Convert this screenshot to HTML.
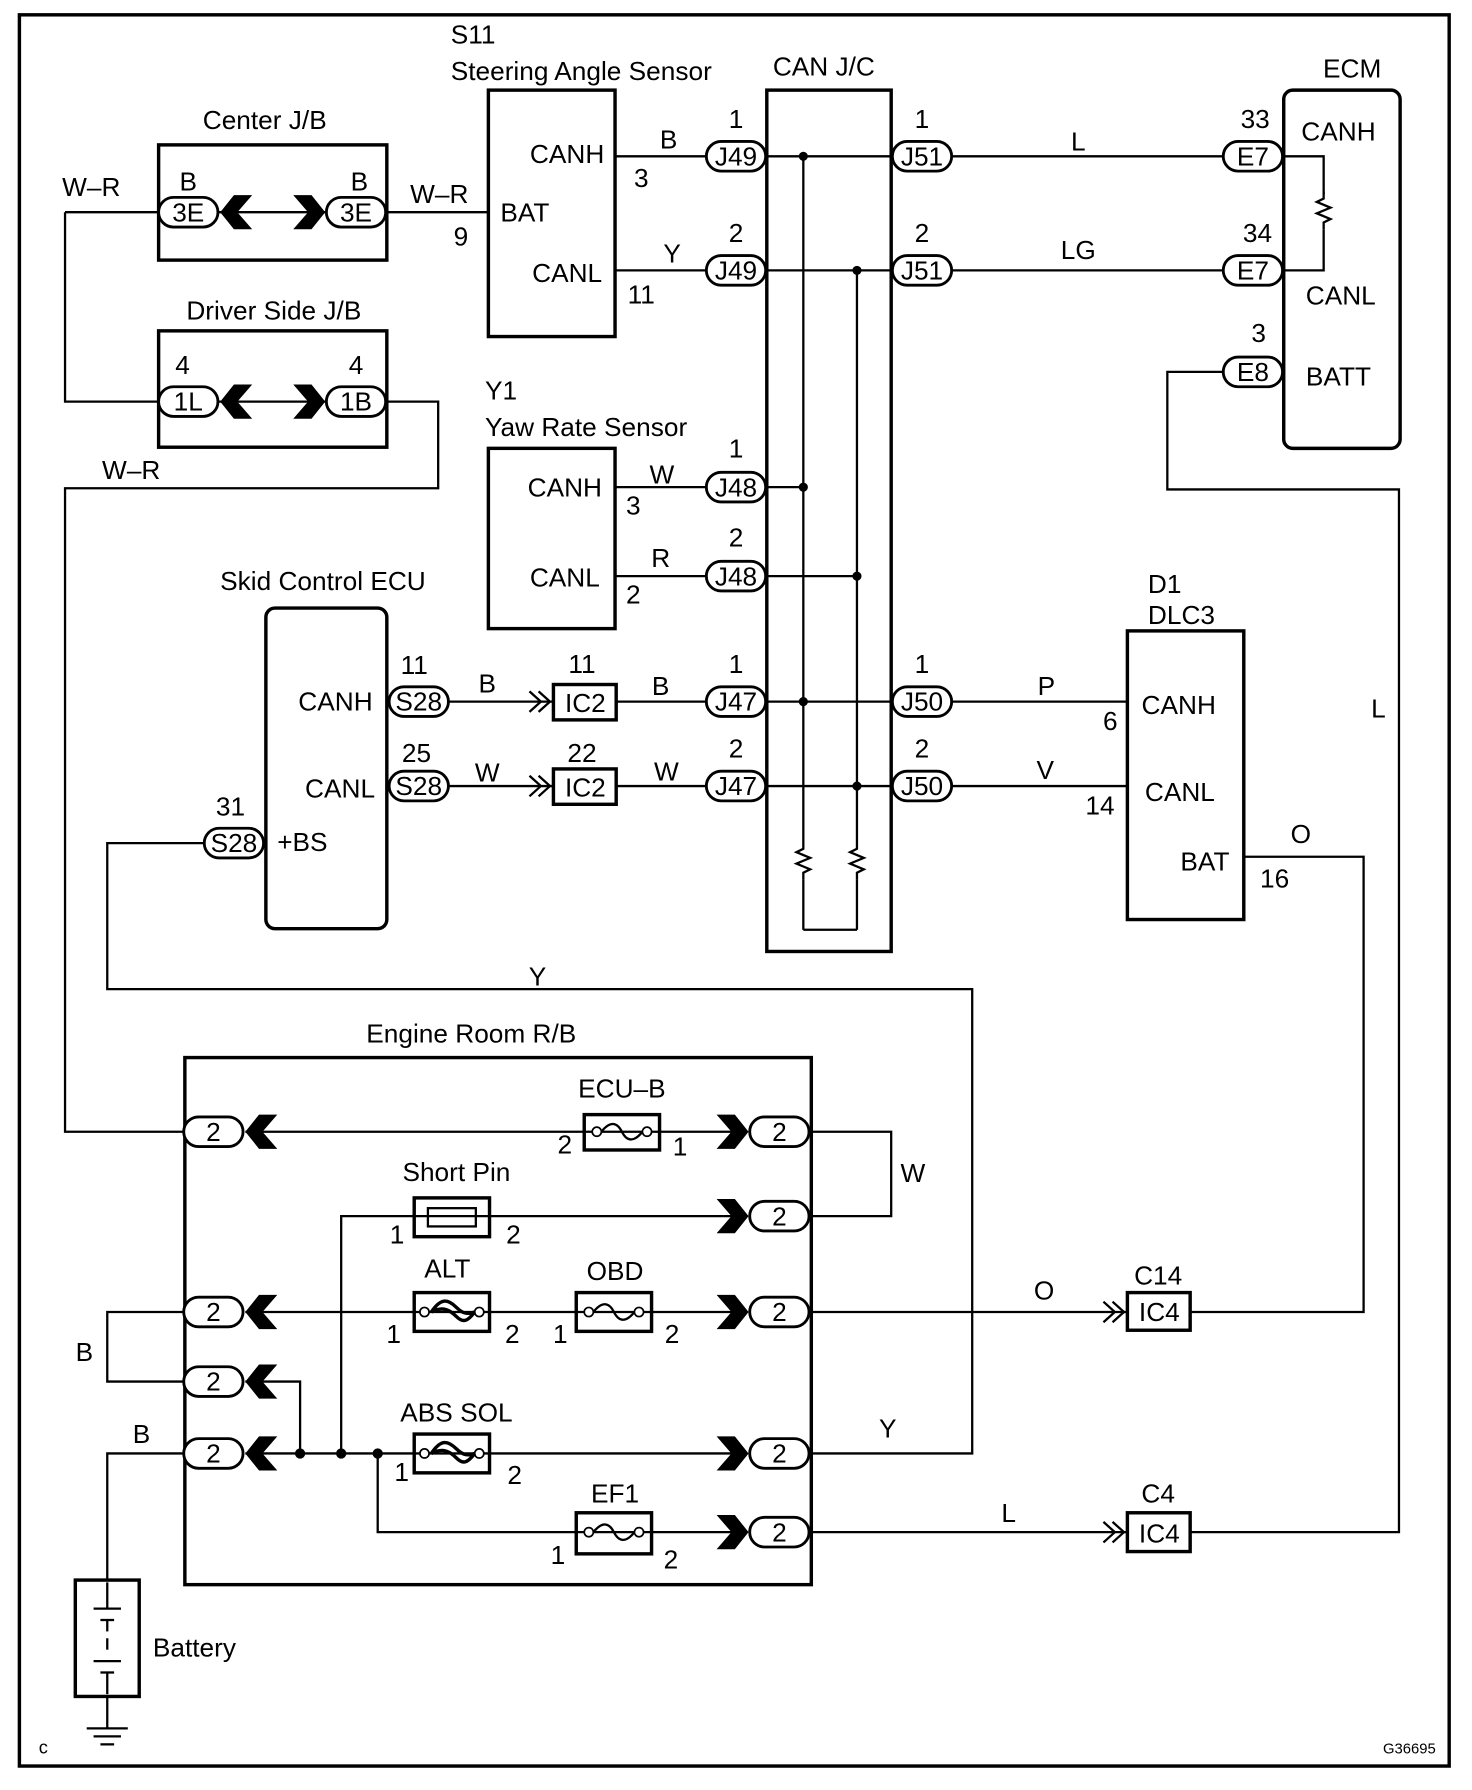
<!DOCTYPE html>
<html><head><meta charset="utf-8"><style>
html,body{margin:0;padding:0;background:#fff}
svg{display:block}
text{font-family:"Liberation Sans",Arial,sans-serif;font-size:23px;fill:#000}
.w{stroke:#000;stroke-width:2;fill:none}
.b{stroke:#000;stroke-width:3;fill:none}
.p{stroke:#000;stroke-width:2.5;fill:#fff}
.m{text-anchor:middle}
</style></head><body>
<svg width="1472" height="1790" viewBox="0 0 1290 1569" preserveAspectRatio="none" xmlns="http://www.w3.org/2000/svg">
<defs>
<g id="pill"><rect x="-26" y="-13" width="52" height="26" rx="13" class="p"/></g>
<polygon id="chL" points="0,0 12,-15 28,-15 15,0 28,15 12,15" fill="#000"/>
<polygon id="chR" points="0,0 -12,-15 -28,-15 -15,0 -28,15 -12,15" fill="#000"/>
<g id="dbl"><polyline points="-16,-9 -6,0 -16,9" class="w"/><polyline points="-8,-9 2,0 -8,9" class="w"/></g>
<g id="fuse"><circle cx="-22" cy="0" r="4" fill="#fff" stroke="#000" stroke-width="1.5"/><circle cx="22" cy="0" r="4" fill="#fff" stroke="#000" stroke-width="1.5"/><path d="M-18,0 C-10,-10 -4,-8 0,0 C4,8 10,10 18,0" class="w"/></g>
<g id="ffuse"><circle cx="-24" cy="0" r="4" fill="#fff" stroke="#000" stroke-width="1.5"/><circle cx="24" cy="0" r="4" fill="#fff" stroke="#000" stroke-width="1.5"/><path d="M-18,0 C-10,-12 -4,-12 4,-4 C10,2 14,2 20,0 M-18,0 C-10,-4 -4,-4 4,4 C10,10 14,8 20,0" stroke="#000" stroke-width="3" fill="none"/></g>
<path id="res" d="M0,0 l0,6 l-6,3 l12,5 l-12,5 l12,5 l-6,3 l0,6" class="w"/>
</defs>
<rect x="17" y="13" width="1253" height="1535" class="b"/>

<!-- Center J/B -->
<text x="232" y="113" class="m">Center J/B</text>
<rect x="139" y="127" width="200" height="101" class="b"/>
<line x1="57" y1="186" x2="139" y2="186" class="w"/>
<line x1="190" y1="186" x2="290" y2="186" class="w"/>
<use href="#pill" x="165" y="186"/><text x="165" y="194" class="m">3E</text>
<use href="#pill" x="312" y="186"/><text x="312" y="194" class="m">3E</text>
<use href="#chL" x="193" y="186"/><use href="#chR" x="285" y="186"/>
<text x="165" y="167" class="m">B</text><text x="315" y="167" class="m">B</text>
<text x="80" y="172" class="m">W–R</text>
<line x1="339" y1="186" x2="428" y2="186" class="w"/>
<text x="385" y="178" class="m">W–R</text><text x="404" y="215" class="m">9</text>

<!-- Driver side J/B -->
<text x="240" y="280" class="m">Driver Side J/B</text>
<rect x="139" y="290" width="200" height="102" class="b"/>
<polyline points="57,186 57,352 139,352" class="w"/>
<line x1="190" y1="352" x2="290" y2="352" class="w"/>
<use href="#pill" x="165" y="352"/><text x="165" y="360" class="m">1L</text>
<use href="#pill" x="312" y="352"/><text x="312" y="360" class="m">1B</text>
<use href="#chL" x="193" y="352"/><use href="#chR" x="285" y="352"/>
<text x="160" y="328" class="m">4</text><text x="312" y="328" class="m">4</text>
<polyline points="339,352 384,352 384,428 57,428 57,992 162,992" class="w"/>
<text x="115" y="420" class="m">W–R</text>

<!-- Steering angle sensor -->
<text x="395" y="38">S11</text>
<text x="395" y="70">Steering Angle Sensor</text>
<rect x="428" y="79" width="111" height="216" class="b"/>
<text x="497" y="143" class="m">CANH</text>
<text x="460" y="194" class="m">BAT</text>
<text x="497" y="247" class="m">CANL</text>
<line x1="539" y1="137" x2="620" y2="137" class="w"/>
<line x1="539" y1="237" x2="620" y2="237" class="w"/>
<text x="586" y="130" class="m">B</text><text x="562" y="164" class="m">3</text>
<text x="589" y="230" class="m">Y</text><text x="562" y="266" class="m">11</text>
<use href="#pill" x="645" y="137"/><text x="645" y="145" class="m">J49</text><text x="645" y="112" class="m">1</text>
<use href="#pill" x="645" y="237"/><text x="645" y="245" class="m">J49</text><text x="645" y="212" class="m">2</text>

<!-- CAN J/C -->
<text x="722" y="66" class="m">CAN J/C</text>
<rect x="672" y="79" width="109" height="755" class="b"/>
<line x1="671" y1="137" x2="782" y2="137" class="w"/>
<line x1="671" y1="237" x2="782" y2="237" class="w"/>
<line x1="671" y1="615" x2="782" y2="615" class="w"/>
<line x1="671" y1="689" x2="782" y2="689" class="w"/>
<line x1="671" y1="427" x2="704" y2="427" class="w"/>
<line x1="671" y1="505" x2="751" y2="505" class="w"/>
<line x1="704" y1="137" x2="704" y2="738" class="w"/><use href="#res" x="704" y="738"/><line x1="704" y1="771" x2="704" y2="815" class="w"/>
<line x1="751" y1="237" x2="751" y2="738" class="w"/><use href="#res" x="751" y="738"/><line x1="751" y1="771" x2="751" y2="815" class="w"/>
<line x1="704" y1="815" x2="751" y2="815" class="w"/>
<g fill="#000"><circle cx="704" cy="137" r="4"/><circle cx="751" cy="237" r="4"/><circle cx="704" cy="427" r="4"/><circle cx="751" cy="505" r="4"/><circle cx="704" cy="615" r="4"/><circle cx="751" cy="689" r="4"/></g>
<use href="#pill" x="808" y="137"/><text x="808" y="145" class="m">J51</text><text x="808" y="112" class="m">1</text>
<use href="#pill" x="808" y="237"/><text x="808" y="245" class="m">J51</text><text x="808" y="212" class="m">2</text>

<!-- ECM -->
<line x1="834" y1="137" x2="1073" y2="137" class="w"/>
<line x1="834" y1="237" x2="1073" y2="237" class="w"/>
<text x="945" y="132" class="m">L</text><text x="945" y="227" class="m">LG</text>
<text x="1185" y="68" class="m">ECM</text>
<rect x="1125" y="79" width="102" height="314" rx="8" class="b"/>
<use href="#pill" x="1098" y="137"/><text x="1098" y="145" class="m">E7</text><text x="1100" y="112" class="m">33</text>
<use href="#pill" x="1098" y="237"/><text x="1098" y="245" class="m">E7</text><text x="1102" y="212" class="m">34</text>
<text x="1173" y="123" class="m">CANH</text>
<text x="1175" y="267" class="m">CANL</text>
<text x="1173" y="338" class="m">BATT</text>
<polyline points="1124,137 1160,137 1160,170" class="w"/><use href="#res" x="1160" y="168"/><polyline points="1160,201 1160,237 1124,237" class="w"/>
<use href="#pill" x="1098" y="326"/><text x="1098" y="334" class="m">E8</text><text x="1103" y="300" class="m">3</text>
<polyline points="1072,326 1023,326 1023,429 1226,429 1226,1343 1043,1343" class="w"/>
<text x="1208" y="629" class="m">L</text>

<!-- Yaw Rate -->
<text x="425" y="350">Y1</text>
<text x="425" y="382">Yaw Rate Sensor</text>
<rect x="428" y="393" width="111" height="158" class="b"/>
<text x="495" y="435" class="m">CANH</text>
<text x="495" y="514" class="m">CANL</text>
<line x1="539" y1="427" x2="620" y2="427" class="w"/>
<line x1="539" y1="505" x2="620" y2="505" class="w"/>
<text x="580" y="424" class="m">W</text><text x="555" y="451" class="m">3</text>
<text x="579" y="497" class="m">R</text><text x="555" y="529" class="m">2</text>
<use href="#pill" x="645" y="427"/><text x="645" y="435" class="m">J48</text><text x="645" y="401" class="m">1</text>
<use href="#pill" x="645" y="505"/><text x="645" y="513" class="m">J48</text><text x="645" y="479" class="m">2</text>

<!-- Skid control ECU -->
<text x="283" y="517" class="m">Skid Control ECU</text>
<rect x="233" y="533" width="106" height="281" rx="8" class="b"/>
<text x="294" y="623" class="m">CANH</text>
<text x="298" y="699" class="m">CANL</text>
<text x="265" y="746" class="m">+BS</text>
<line x1="392" y1="615" x2="485" y2="615" class="w"/>
<line x1="392" y1="689" x2="485" y2="689" class="w"/>
<line x1="540" y1="615" x2="620" y2="615" class="w"/>
<line x1="540" y1="689" x2="620" y2="689" class="w"/>
<use href="#pill" x="367" y="615"/><text x="367" y="623" class="m">S28</text><text x="363" y="591" class="m">11</text>
<use href="#pill" x="367" y="689"/><text x="367" y="697" class="m">S28</text><text x="365" y="668" class="m">25</text>
<use href="#pill" x="205" y="739"/><text x="205" y="747" class="m">S28</text><text x="202" y="715" class="m">31</text>
<text x="427" y="607" class="m">B</text><text x="427" y="685" class="m">W</text>
<use href="#dbl" x="480" y="615"/><use href="#dbl" x="480" y="689"/>
<rect x="485" y="600" width="55" height="31" fill="#fff" class="b"/><text x="513" y="624" class="m">IC2</text><text x="510" y="590" class="m">11</text>
<rect x="485" y="674" width="55" height="31" fill="#fff" class="b"/><text x="513" y="698" class="m">IC2</text><text x="510" y="668" class="m">22</text>
<text x="579" y="609" class="m">B</text><text x="584" y="684" class="m">W</text>
<use href="#pill" x="645" y="615"/><text x="645" y="623" class="m">J47</text><text x="645" y="590" class="m">1</text>
<use href="#pill" x="645" y="689"/><text x="645" y="697" class="m">J47</text><text x="645" y="664" class="m">2</text>
<use href="#pill" x="808" y="615"/><text x="808" y="623" class="m">J50</text><text x="808" y="590" class="m">1</text>
<use href="#pill" x="808" y="689"/><text x="808" y="697" class="m">J50</text><text x="808" y="664" class="m">2</text>

<!-- DLC3 -->
<line x1="834" y1="615" x2="988" y2="615" class="w"/>
<line x1="834" y1="689" x2="988" y2="689" class="w"/>
<text x="917" y="609" class="m">P</text><text x="916" y="683" class="m">V</text>
<text x="1006" y="520">D1</text><text x="1006" y="547">DLC3</text>
<rect x="988" y="553" width="102" height="253" class="b"/>
<text x="1033" y="626" class="m">CANH</text>
<text x="1034" y="702" class="m">CANL</text>
<text x="1056" y="763" class="m">BAT</text>
<text x="973" y="640" class="m">6</text><text x="964" y="714" class="m">14</text><text x="1117" y="778" class="m">16</text>
<text x="1140" y="739" class="m">O</text>
<polyline points="1090,751 1195,751 1195,1150 1043,1150" class="w"/>

<!-- +BS / Y wire -->
<polyline points="180,739 94,739 94,867 852,867 852,1274 708,1274" class="w"/>
<text x="471" y="864" class="m">Y</text>
<text x="778" y="1260" class="m">Y</text>

<!-- Engine Room R/B -->
<text x="413" y="914" class="m">Engine Room R/B</text>
<rect x="162" y="927" width="549" height="462" class="b"/>
<line x1="215" y1="992" x2="650" y2="992" class="w"/>
<rect x="512" y="977" width="66" height="31" fill="#fff" class="b"/><use href="#fuse" x="545" y="992"/>
<text x="545" y="962" class="m">ECU–B</text><text x="495" y="1011" class="m">2</text><text x="596" y="1013" class="m">1</text>
<polyline points="708,992 781,992 781,1066 708,1066" class="w"/>
<text x="800" y="1036" class="m">W</text>
<polyline points="299,1274 299,1066 650,1066" class="w"/>
<rect x="363" y="1050" width="66" height="34" fill="#fff" class="b"/><rect x="375" y="1059" width="42" height="16" class="w"/>
<text x="400" y="1035" class="m">Short Pin</text><text x="348" y="1090" class="m">1</text><text x="450" y="1090" class="m">2</text>
<line x1="215" y1="1150" x2="650" y2="1150" class="w"/>
<rect x="363" y="1133" width="66" height="34" fill="#fff" class="b"/><use href="#ffuse" x="396" y="1150"/>
<rect x="505" y="1133" width="66" height="34" fill="#fff" class="b"/><use href="#fuse" x="538" y="1150"/>
<text x="392" y="1120" class="m">ALT</text><text x="539" y="1122" class="m">OBD</text>
<text x="345" y="1177" class="m">1</text><text x="449" y="1177" class="m">2</text><text x="491" y="1177" class="m">1</text><text x="589" y="1177" class="m">2</text>
<line x1="708" y1="1150" x2="988" y2="1150" class="w"/>
<text x="915" y="1139" class="m">O</text>
<use href="#dbl" x="983" y="1150"/>
<rect x="988" y="1133" width="55" height="33" fill="#fff" class="b"/><text x="1016" y="1158" class="m">IC4</text>
<text x="1015" y="1126" class="m">C14</text>
<polyline points="162,1150 94,1150 94,1211 162,1211" class="w"/>
<text x="74" y="1193" class="m">B</text>
<polyline points="215,1211 263,1211 263,1274" class="w"/>
<line x1="215" y1="1274" x2="650" y2="1274" class="w"/>
<rect x="363" y="1257" width="66" height="34" fill="#fff" class="b"/><use href="#ffuse" x="396" y="1274"/>
<text x="400" y="1246" class="m">ABS SOL</text><text x="352" y="1298" class="m">1</text><text x="451" y="1301" class="m">2</text>
<g fill="#000"><circle cx="263" cy="1274" r="4.5"/><circle cx="299" cy="1274" r="4.5"/><circle cx="331" cy="1274" r="4.5"/></g>
<polyline points="162,1274 94,1274 94,1385" class="w"/>
<text x="124" y="1265" class="m">B</text>
<polyline points="331,1274 331,1343 650,1343" class="w"/>
<rect x="505" y="1326" width="66" height="36" fill="#fff" class="b"/><use href="#fuse" x="538" y="1343"/>
<text x="539" y="1317" class="m">EF1</text><text x="489" y="1371" class="m">1</text><text x="588" y="1375" class="m">2</text>
<line x1="708" y1="1343" x2="988" y2="1343" class="w"/>
<text x="884" y="1334" class="m">L</text>
<use href="#dbl" x="983" y="1343"/>
<rect x="988" y="1326" width="55" height="34" fill="#fff" class="b"/><text x="1016" y="1352" class="m">IC4</text>
<text x="1015" y="1317" class="m">C4</text>
<g>
<use href="#pill" x="187" y="992"/><text x="187" y="1000" class="m">2</text><use href="#chL" x="215" y="992"/>
<use href="#pill" x="187" y="1150"/><text x="187" y="1158" class="m">2</text><use href="#chL" x="215" y="1150"/>
<use href="#pill" x="187" y="1211"/><text x="187" y="1219" class="m">2</text><use href="#chL" x="215" y="1211"/>
<use href="#pill" x="187" y="1274"/><text x="187" y="1282" class="m">2</text><use href="#chL" x="215" y="1274"/>
<use href="#pill" x="683" y="992"/><text x="683" y="1000" class="m">2</text><use href="#chR" x="656" y="992"/>
<use href="#pill" x="683" y="1066"/><text x="683" y="1074" class="m">2</text><use href="#chR" x="656" y="1066"/>
<use href="#pill" x="683" y="1150"/><text x="683" y="1158" class="m">2</text><use href="#chR" x="656" y="1150"/>
<use href="#pill" x="683" y="1274"/><text x="683" y="1282" class="m">2</text><use href="#chR" x="656" y="1274"/>
<use href="#pill" x="683" y="1343"/><text x="683" y="1351" class="m">2</text><use href="#chR" x="656" y="1343"/>
</g>

<!-- Battery -->
<rect x="66" y="1385" width="56" height="102" class="b"/>
<line x1="94" y1="1387" x2="94" y2="1410" class="w"/>
<line x1="82" y1="1410" x2="106" y2="1410" class="w"/><line x1="88" y1="1420" x2="100" y2="1420" class="w"/>
<line x1="94" y1="1420" x2="94" y2="1430" class="w"/><line x1="94" y1="1436" x2="94" y2="1446" class="w"/>
<line x1="82" y1="1456" x2="106" y2="1456" class="w"/><line x1="88" y1="1466" x2="100" y2="1466" class="w"/>
<line x1="94" y1="1466" x2="94" y2="1485" class="w"/>
<line x1="94" y1="1487" x2="94" y2="1515" class="w"/>
<line x1="76" y1="1515" x2="112" y2="1515" class="w"/><line x1="82" y1="1522" x2="106" y2="1522" class="w"/><line x1="88" y1="1529" x2="100" y2="1529" class="w"/>
<text x="134" y="1452">Battery</text>
<text x="34" y="1537" style="font-size:16px">c</text>
<text x="1212" y="1537" style="font-size:13px">G36695</text>
</svg>
</body></html>
